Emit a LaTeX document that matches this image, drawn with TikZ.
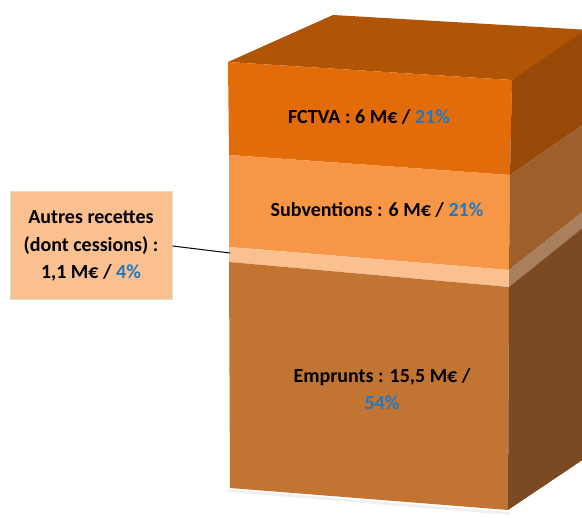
\documentclass[tikz,border=0pt]{standalone}
\usepackage{fontspec}
\setmainfont{Carlito}
\definecolor{topc}{HTML}{B05406}
\definecolor{fctva}{HTML}{E36C0A}
\definecolor{fctvaS}{HTML}{984807}
\definecolor{subv}{HTML}{F79646}
\definecolor{subvS}{HTML}{9E5F2C}
\definecolor{autr}{HTML}{FAC090}
\definecolor{autrS}{HTML}{A8805E}
\definecolor{empr}{HTML}{C27533}
\definecolor{emprS}{HTML}{7B4A22}
\definecolor{pct}{HTML}{1F78C1}
\definecolor{boxborder}{HTML}{D7E4BD}
\tikzset{
  lbl/.style={font=\fontsize{20}{27.5}\selectfont\bfseries, align=center, text=black, inner sep=0pt},
  pc/.style={text=pct}
}
\begin{document}
\begin{tikzpicture}[x=1pt,y=-1pt]
\useasboundingbox (0,0) rectangle (582,518);
\begin{scope}
\clip (0,0) rectangle (582,518);
% soft shadow
\fill[black!6] (226,489) -- (508,512) -- (510,515) -- (228,492) -- cycle;
% top face
\fill[topc] (228,62) -- (333,15) -- (590,30) -- (512,80) -- cycle;
% front layers
\fill[fctva] (228,62) -- (512,80) -- (510,175) -- (229,155) -- cycle;
\fill[subv] (229,155) -- (510,175) -- (509,270) -- (229,247) -- cycle;
\fill[autr] (229,247) -- (509,270) -- (509,287) -- (229,262) -- cycle;
\fill[empr] (229,262) -- (509,287) -- (508,510) -- (230,488) -- cycle;
% side layers
\fill[fctvaS] (512,80) -- (590,27) -- (590,120) -- (510,175) -- cycle;
\fill[subvS] (510,175) -- (590,120) -- (590,206) -- (509,270) -- cycle;
\fill[autrS] (509,270) -- (590,206) -- (590,222) -- (509,287) -- cycle;
\fill[emprS] (509,287) -- (590,222) -- (590,455) -- (508,510) -- cycle;
\end{scope}
% texts
\node[lbl] (fctvaT) at (369,117) {FCTVA : 6 M€ / \textcolor{pct}{21\%}};
\node[lbl] (subvT) at (377,210) {Subventions : 6 M€ / \textcolor{pct}{21\%}};
\node[lbl] (emprT) at (382,389) {Emprunts : 15,5 M€ /\\ \textcolor{pct}{54\%}};
% label box
\node[lbl, draw=boxborder, fill=autr, line width=1pt, minimum width=162pt, minimum height=108pt] (autresT) at (91,246)
  {Autres recettes\\(dont cessions) :\\1,1 M€ / \textcolor{pct}{4\%}};
\coordinate (bandL) at (230,253);
\draw[black, line width=1pt] (autresT.east) -- (bandL);
\end{tikzpicture}
\end{document}
